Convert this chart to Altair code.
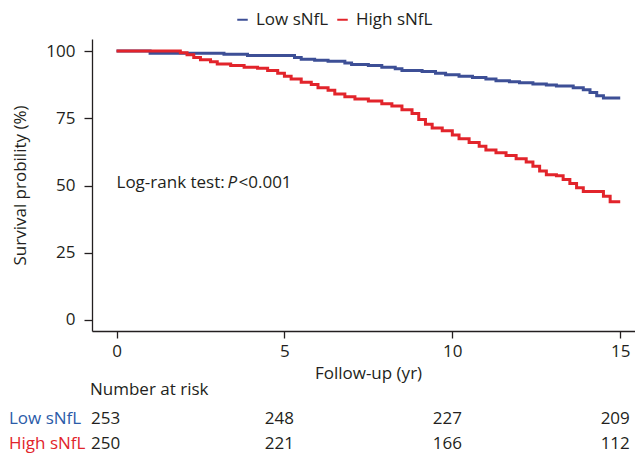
import altair as alt
import pandas as pd

# ---- data ----
low_t = [0, 1.0, 3.2, 3.9, 5.3, 5.5, 5.9, 6.3, 6.8, 7.0, 7.5, 7.9, 8.3, 8.5, 9.1, 9.5, 9.8,
         10.2, 10.6, 11.0, 11.3, 11.7, 12.0, 12.4, 12.8, 13.1, 13.6, 13.9, 14.1, 14.3, 14.5, 15.0]
low_s = [100, 99.2, 98.8, 98.4, 97.6, 97.0, 96.6, 96.2, 95.6, 95.0, 94.6, 94.0, 93.4, 92.8, 92.4, 91.8, 91.2,
         90.6, 90.2, 89.6, 89.0, 88.6, 88.2, 87.8, 87.4, 87.0, 86.4, 85.6, 84.6, 83.4, 82.6, 82.6]

high_t = [0, 1.9, 2.1, 2.3, 2.5, 2.8, 3.0, 3.4, 3.8, 4.2, 4.5, 4.8, 5.0, 5.2, 5.5, 5.8, 6.0, 6.3, 6.5,
          6.8, 7.1, 7.5, 7.9, 8.2, 8.5, 8.8, 9.0, 9.2, 9.4, 9.7, 10.0, 10.2, 10.5, 10.8, 11.0, 11.3,
          11.6, 11.9, 12.2, 12.4, 12.6, 12.8, 13.1, 13.3, 13.5, 13.7, 13.9, 14.3, 14.5, 14.7, 15.0]
high_s = [100, 99.4, 98.6, 97.6, 96.8, 96.0, 95.2, 94.6, 94.0, 93.6, 92.8, 91.8, 90.6, 89.6, 88.4, 87.6,
          86.4, 85.4, 84.0, 83.0, 82.2, 81.4, 80.4, 79.6, 78.2, 76.8, 74.6, 72.8, 71.4, 70.4, 68.8, 67.4,
          66.0, 64.6, 63.2, 62.2, 61.2, 60.0, 58.8, 57.2, 55.4, 54.0, 53.6, 52.2, 50.8, 49.2, 47.8, 47.8,
          46.0, 44.0, 44.0]

groups = ["Low sNfL", "High sNfL"]
risk_times = [0, 5, 10, 15]
risk_low = [253, 248, 227, 209]
risk_high = [250, 221, 166, 112]
x_ticks = [0, 5, 10, 15]
y_ticks = [0, 25, 50, 75, 100]

BLUE = "#3d4f96"
RED = "#e2242b"
TXT = "#231f20"
FONT = "Open Sans"

curves = pd.concat([
    pd.DataFrame({"time": low_t, "surv": low_s, "group": groups[0]}),
    pd.DataFrame({"time": high_t, "surv": high_s, "group": groups[1]}),
])

xs = alt.Scale(domain=[-0.73, 15.44], nice=False, zero=False)
ys = alt.Scale(domain=[-4.1, 104.5], nice=False, zero=False)

lines = alt.Chart(curves).mark_line(interpolate="step-after", strokeWidth=3).encode(
    x=alt.X("time:Q", scale=xs,
            axis=alt.Axis(values=x_ticks, title="Follow-up (yr)", grid=False, tickSize=7,
                          labelPadding=5, titleX=276, titleY=42, titleBaseline="middle",
                          titleAlign="center")),
    y=alt.Y("surv:Q", scale=ys,
            axis=alt.Axis(values=y_ticks, title="Survival probility (%)", grid=False, tickSize=8,
                          labelPadding=9, titleX=-72, titleY=146, titleBaseline="middle",
                          titleAlign="center", titleAngle=270)),
    color=alt.Color("group:N", scale=alt.Scale(domain=groups, range=[BLUE, RED]),
                    legend=alt.Legend(title=None, orient="none", direction="horizontal",
                                      legendX=142, legendY=-28, symbolType="stroke",
                                      symbolSize=110, symbolStrokeWidth=2, labelFontSize=17,
                                      labelFont=FONT, labelColor=TXT, labelOffset=5,
                                      columnPadding=4)),
    detail="group:N",
)

logrank = pd.DataFrame({"time": [0], "surv": [51]})
lr1 = alt.Chart(logrank).mark_text(align="left", baseline="middle", fontSize=17, font=FONT,
                                    color=TXT, text="Log-rank test: ").encode(
    x=alt.X("time:Q", scale=xs), y=alt.Y("surv:Q", scale=ys))
lr2 = alt.Chart(logrank).mark_text(align="left", baseline="middle", fontSize=17, font=FONT,
                                    color=TXT, text="P", fontStyle="italic", dx=111).encode(
    x=alt.X("time:Q", scale=xs), y=alt.Y("surv:Q", scale=ys))
lr3 = alt.Chart(logrank).mark_text(align="left", baseline="middle", fontSize=17, font=FONT,
                                    color=TXT, text="<0.001", dx=122).encode(
    x=alt.X("time:Q", scale=xs), y=alt.Y("surv:Q", scale=ys))

risk = pd.DataFrame({
    "time": risk_times * 2,
    "n": risk_low + risk_high,
    "row": [groups[0]] * 4 + [groups[1]] * 4,
})
risk_first = risk[risk["time"] == 0]
risk_rest = risk[risk["time"] != 0]

ROW_LOW = 380
ROW_HIGH = 405

def risk_layer(df, dx):
    base = alt.Chart(df).mark_text(align="center", baseline="middle", fontSize=17, font=FONT,
                                   color=TXT, dx=dx)
    lo = base.transform_filter(alt.datum.row == groups[0]).encode(
        x=alt.X("time:Q", scale=xs), y=alt.value(ROW_LOW), text="n:Q")
    hi = base.transform_filter(alt.datum.row == groups[1]).encode(
        x=alt.X("time:Q", scale=xs), y=alt.value(ROW_HIGH), text="n:Q")
    return lo + hi

labels = pd.DataFrame({"label": ["Number at risk"] + groups})
nar = alt.Chart(labels).transform_filter(alt.datum.label == "Number at risk").mark_text(
    align="left", baseline="middle", fontSize=17, font=FONT, color=TXT).encode(
    x=alt.value(-2), y=alt.value(351), text="label:N")
lowlab = alt.Chart(labels).transform_filter(alt.datum.label == groups[0]).mark_text(
    align="left", baseline="middle", fontSize=17, font=FONT, color="#2b5ba8").encode(
    x=alt.value(-83), y=alt.value(ROW_LOW), text="label:N")
highlab = alt.Chart(labels).transform_filter(alt.datum.label == groups[1]).mark_text(
    align="left", baseline="middle", fontSize=17, font=FONT, color=RED).encode(
    x=alt.value(-83), y=alt.value(ROW_HIGH), text="label:N")

chart = alt.layer(
    lines, lr1, lr2, lr3,
    risk_layer(risk_first, -11), risk_layer(risk_rest, -5),
    nar, lowlab, highlab,
).properties(
    width=543, height=292,
    autosize=alt.AutoSizeParams(type="none"),
    padding={"left": 84, "top": 31, "right": 0, "bottom": 124},
).configure_view(stroke=None).configure_axis(
    domainColor=TXT, domainWidth=1.3, tickColor=TXT, tickWidth=1.3,
    labelFont=FONT, labelFontSize=17, labelColor=TXT,
    titleFont=FONT, titleFontSize=17, titleColor=TXT, titleFontWeight="normal",
)

chart.save("out.html", embed_options={"renderer": "svg", "actions": False})
